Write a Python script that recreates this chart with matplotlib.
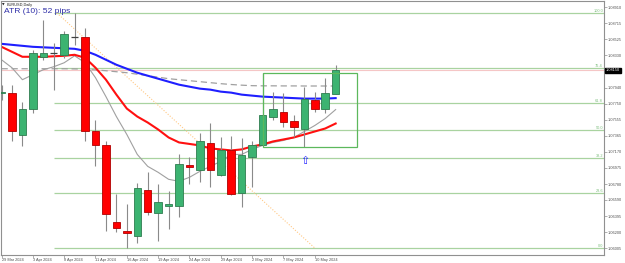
import matplotlib.pyplot as plt
from matplotlib.patches import Rectangle

plt.rcParams['font.family'] = ['Liberation Sans', 'DejaVu Sans']

# daily EURUSD candles, 29 Mar 2024 .. 14 May 2024 (trading days)
opens = [1.07876, 1.07882, 1.07366, 1.07690, 1.08314, 1.08362, 1.08338, 1.08554,
         1.08554, 1.07414, 1.07246, 1.06322, 1.06214, 1.06154, 1.06706, 1.06430,
         1.06514, 1.06514, 1.07006, 1.06946, 1.07270, 1.06886, 1.07186, 1.06670,
         1.07102, 1.07246, 1.07594, 1.07654, 1.07546, 1.07438, 1.07798, 1.07690,
         1.07870]
highs = [1.07978, 1.07978, 1.07774, 1.08398, 1.08758, 1.08482, 1.08626, 1.08842,
         1.08662, 1.07558, 1.07294, 1.06658, 1.06538, 1.06790, 1.06922, 1.06778,
         1.06694, 1.07138, 1.07102, 1.07390, 1.07522, 1.07342, 1.07354, 1.07330,
         1.07294, 1.08122, 1.07894, 1.07882, 1.07618, 1.07954, 1.07894, 1.08062,
         1.08218]
lows = [1.07798, 1.07294, 1.07234, 1.07642, 1.08278, 1.07918, 1.08302, 1.08458,
        1.07294, 1.06994, 1.06214, 1.06202, 1.06010, 1.06070, 1.06406, 1.06094,
        1.06238, 1.06382, 1.06778, 1.06802, 1.06742, 1.06874, 1.06646, 1.06502,
        1.06742, 1.07234, 1.07558, 1.07474, 1.07342, 1.07228, 1.07654, 1.07642,
        1.07870]
closes = [1.07894, 1.07414, 1.07690, 1.08362, 1.08362, 1.08362, 1.08590, 1.08554,
          1.07414, 1.07246, 1.06418, 1.06250, 1.06190, 1.06730, 1.06442, 1.06562,
          1.06538, 1.07018, 1.06982, 1.07294, 1.06946, 1.07186, 1.06658, 1.07126,
          1.07246, 1.07618, 1.07690, 1.07534, 1.07474, 1.07810, 1.07690, 1.07882,
          1.08150]

ma_blue = [1.08470, 1.08458, 1.08446, 1.08434, 1.08428, 1.08422, 1.08416, 1.08410,
           1.08386, 1.08338, 1.08278, 1.08218, 1.08170, 1.08122, 1.08086, 1.08050,
           1.08014, 1.07978, 1.07954, 1.07930, 1.07918, 1.07894, 1.07882, 1.07858,
           1.07846, 1.07834, 1.07828, 1.07822, 1.07816, 1.07810, 1.07810, 1.07810,
           1.07816]
ma_red = [1.08434, 1.08374, 1.08314, 1.08314, 1.08314, 1.08320, 1.08326, 1.08338,
          1.08302, 1.08182, 1.08038, 1.07858, 1.07690, 1.07594, 1.07522, 1.07438,
          1.07342, 1.07282, 1.07264, 1.07246, 1.07210, 1.07198, 1.07186, 1.07198,
          1.07234, 1.07258, 1.07294, 1.07318, 1.07342, 1.07378, 1.07414, 1.07450,
          1.07510]
ma_gray = [1.08278, 1.08182, 1.08038, 1.08098, 1.08158, 1.08194, 1.08242, 1.08326,
           1.08242, 1.08062, 1.07834, 1.07594, 1.07378, 1.07138, 1.06994, 1.06922,
           1.06838, 1.06814, 1.06862, 1.06934, 1.06994, 1.07054, 1.07138, 1.07138,
           1.07198, 1.07246, 1.07282, 1.07306, 1.07342, 1.07414, 1.07486, 1.07570,
           1.07678]
ma_dash = [1.08170, 1.08170, 1.08170, 1.08170, 1.08170, 1.08170, 1.08170, 1.08168,
           1.08164, 1.08156, 1.08146, 1.08134, 1.08122, 1.08104, 1.08086, 1.08068,
           1.08050, 1.08038, 1.08026, 1.08014, 1.08002, 1.07990, 1.07980, 1.07972,
           1.07966, 1.07964, 1.07964, 1.07963, 1.07963, 1.07962, 1.07962, 1.07962,
           1.07962]

date_idx = [0, 3, 6, 9, 12, 15, 18, 21, 24, 27, 30]
date_labels = ["29 Mar 2024", "3 Apr 2024", "8 Apr 2024", "11 Apr 2024", "16 Apr 2024",
               "19 Apr 2024", "24 Apr 2024", "29 Apr 2024", "2 May 2024", "7 May 2024",
               "10 May 2024"]
price_ticks = [1.06005, 1.06200, 1.06395, 1.06590, 1.06780, 1.06975, 1.07170, 1.07365,
               1.07555, 1.07750, 1.07940, 1.08330, 1.08525, 1.08715, 1.08910]
fib_levels = [0.0, 23.6, 38.2, 50.0, 61.8, 76.4, 100.0]
fib_start, fib_end = 5.3, 30   # bar positions of the fibo anchors
box_start, box_end = 25, 34
box_top, box_bottom = 1.08122, 1.07222
arrow_bar, arrow_price = 29, 1.07054
atr_text = "ATR (10): 52 pips"

GREEN, GREEN_EDGE = "#3cb371", "#2e7d4f"
RED, RED_EDGE = "#ff0000", "#b00000"
FIB_COL = "#a9d3a0"
SMALL = 2.8

fig = plt.figure(figsize=(6.25, 2.63), dpi=100)
ax = fig.add_axes([1 / 625, 8 / 263, 603 / 625, 254 / 263])
ax.set_xlim(-0.05, 57.7)
ax.set_ylim(1.05926, 1.08986)

# fibo retracement
fib_hi, fib_lo = max(highs), min(lows)
for lv in fib_levels:
    p = fib_lo + (fib_hi - fib_lo) * lv / 100
    ax.hlines(p, fib_start - 0.3, 57.7, color=FIB_COL, lw=0.9, zorder=1)
    ax.text(57.6, p, f"{lv:.1f}", color="#7fbf7f", fontsize=SMALL,
            ha="right", va="bottom", zorder=5)
ax.plot([fib_start, fib_end], [fib_hi, fib_lo], color="#ffc985", lw=0.8,
        ls=(0, (1, 1.5)), zorder=1)

# current price line
ax.axhline(closes[-1], color="#f5c6c6", lw=0.8, zorder=1)

xs = list(range(len(closes)))
ax.plot(xs, ma_dash, color="#a0a0a0", lw=0.9, ls=(0, (5, 3)), zorder=2)
ax.plot(xs, ma_gray, color="#a0a0a0", lw=0.8, zorder=2)
ax.plot(xs, ma_blue, color="#1f1fff", lw=1.5, zorder=2)
ax.plot(xs, ma_red, color="#ff1010", lw=1.5, zorder=2)

# candles
w = 0.72
for i, (o, h, l, c) in enumerate(zip(opens, highs, lows, closes)):
    ax.vlines(i, l, h, color="#8a8a8a", lw=0.8, zorder=3)
    if o == c:
        ax.hlines(o, i - w / 2, i + w / 2, color="#404040", lw=0.9, zorder=4)
        continue
    fc, ec = (GREEN, GREEN_EDGE) if c > o else (RED, RED_EDGE)
    ax.add_patch(Rectangle((i - w / 2, min(o, c)), w, abs(c - o), facecolor=fc,
                           edgecolor=ec, lw=0.6, zorder=4))

ax.add_patch(Rectangle((box_start, box_bottom), box_end - box_start, box_top - box_bottom,
                       fill=False, edgecolor="#5cb85c", lw=0.9, zorder=5))
ax.text(arrow_bar, arrow_price, "\u21e7", color="#1f1fff", fontsize=8,
        family="DejaVu Sans", ha="center", va="center", zorder=6)

# axes styling
for s in ax.spines.values():
    s.set_color("#909090")
    s.set_linewidth(0.8)
ax.yaxis.tick_right()
ax.set_yticks(price_ticks)
ax.set_yticklabels([f"{p:.5f}" for p in price_ticks])
ax.tick_params(axis="y", length=2, width=0.5, pad=1, labelsize=SMALL,
               colors="#909090", labelcolor="#505050")
ax.set_xticks(date_idx)
ax.set_xticklabels(date_labels, ha="left")
ax.tick_params(axis="x", length=2, width=0.5, pad=0.5, labelsize=SMALL,
               colors="#909090", labelcolor="#505050")

ax.annotate(f"{closes[-1]:.5f}", xy=(1.0, closes[-1]), xycoords=("axes fraction", "data"),
            xytext=(1.5, 0), textcoords="offset points", fontsize=SMALL, color="white",
            va="center", ha="left",
            bbox=dict(boxstyle="square,pad=0.2", fc="black", ec="black"))

fig.text(2 / 625, 1 - 5 / 263, "\u25bc", fontsize=2.4, color="#202020",
         family="DejaVu Sans", va="center", ha="left")
fig.text(7 / 625, 1 - 5 / 263, "EURUSD,Daily", fontsize=SMALL, color="#202020",
         va="center", ha="left")
fig.text(4 / 625, 1 - 8 / 263, atr_text, fontsize=6.1, color="#2f2fa8",
         va="top", ha="left")

fig.savefig("out.png", dpi=100)
